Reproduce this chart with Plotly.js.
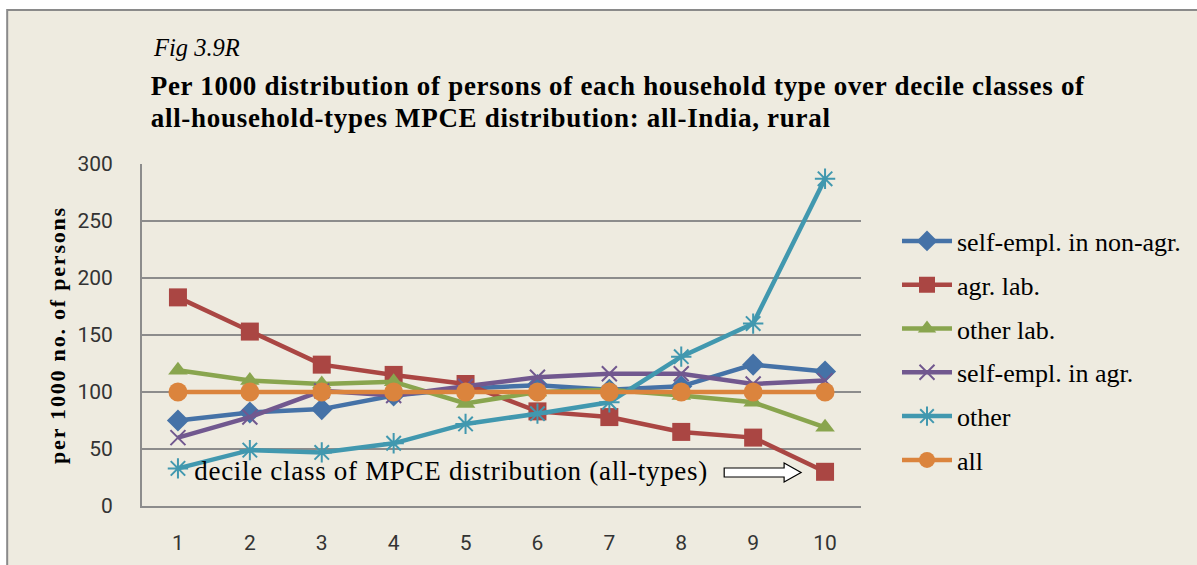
<!DOCTYPE html>
<html>
<head>
<meta charset="utf-8">
<script src="https://cdn.plot.ly/plotly-3.0.1.min.js"></script>
<style>
html,body{margin:0;padding:0;background:#ffffff;}
#chart{width:1197px;height:565px;}
#chart g.annotation[data-index="1"] text,
#chart g.annotation[data-index="2"] text{letter-spacing:0.7px;}
#chart g.annotation[data-index="3"] text{letter-spacing:0.7px;}
#chart text.ytitle{letter-spacing:1.8px;}
</style>
</head>
<body>
<div id="chart"></div>
<script>
const deciles = ["1","2","3","4","5","6","7","8","9","10"];
const seriesNames = ["self-empl. in non-agr.","agr. lab.","other lab.","self-empl. in agr.","other","all"];
const selfEmplNonAgr = [75, 82, 85, 97, 103, 106, 102, 105, 124, 118];
const agrLab        = [183, 153, 124, 115, 107, 83, 78, 65, 60, 30];
const otherLab      = [119, 110, 107, 109, 90, 100, 102, 97, 91, 69];
const selfEmplAgr   = [60, 78, 101, 97, 105, 113, 116, 116, 107, 110];
const other         = [33, 49, 47, 55, 72, 81, 91, 131, 160, 287];
const allTypes      = [100, 100, 100, 100, 100, 100, 100, 100, 100, 100];
const yTicks = [0, 50, 100, 150, 200, 250, 300];

const colors = ["#4572A7","#AA4643","#89A54E","#71588F","#4198AF","#DB843D"];
const symbols = ["diamond","square","triangle-up","x-thin-open","asterisk-open","circle"];
const sizes = [17, 18, 17, 15, 17, 19];
const values = [selfEmplNonAgr, agrLab, otherLab, selfEmplAgr, other, allTypes];

// plot area in pixels
const L = 142, R = 862, T = 164, B = 506, W = 1197, H = 565;
const px = x => (x - L) / (R - L);
const py = y => (B - y) / (B - T);

const traces = values.map((v, i) => ({
  type: "scatter",
  mode: "lines+markers",
  name: seriesNames[i],
  legendgroup: "g" + i,
  x: deciles,
  y: v,
  line: {color: colors[i], width: 4.5},
  marker: {
    color: colors[i],
    symbol: symbols[i],
    size: sizes[i],
    line: {color: colors[i], width: (symbols[i].endsWith("open") ? 2 : 0)}
  },
  cliponaxis: false
}));

// hollow arrow path (paper coords)
const arrowPts = [[725,468],[785,468],[785,463],[802,472.5],[785,482],[785,477],[725,477]];
const arrowPath = "M" + arrowPts.map(p => px(p[0]).toFixed(5) + "," + py(p[1]).toFixed(5)).join(" L") + " Z";

const serif = "Liberation Serif, Times New Roman, serif";

const layout = {
  width: W, height: H,
  paper_bgcolor: "#ffffff",
  plot_bgcolor: "#ffffff",
  margin: {l: L, r: W - R, t: T, b: H - B, pad: 0},
  showlegend: true,
  legend: {
    x: px(897), y: py(217.5), xanchor: "left", yanchor: "top",
    bgcolor: "rgba(0,0,0,0)",
    font: {family: serif, size: 26, color: "#000000"},
    tracegroupgap: 7,
    itemwidth: 50
  },
  xaxis: {
    type: "category",
    range: [-0.5, 9.5],
    showgrid: false,
    zeroline: false,
    showline: true, linecolor: "#8c8c8c", linewidth: 2,
    ticks: "",
    ticklabelstandoff: 17,
    tickfont: {family: "Roboto, Arial, sans-serif", size: 21, color: "#333333"},
    fixedrange: true
  },
  yaxis: {
    range: [0, 300],
    tickvals: yTicks,
    showgrid: true, gridcolor: "#8c8c8c", gridwidth: 1.5,
    zeroline: false,
    showline: true, linecolor: "#8c8c8c", linewidth: 2,
    ticks: "",
    ticklabelstandoff: 23,
    tickfont: {family: "Roboto, Arial, sans-serif", size: 21, color: "#333333"},
    title: {text: "<b>per 1000 no. of persons</b>", font: {family: serif, size: 22, color: "#000000"}, standoff: 6},
    fixedrange: true
  },
  shapes: [
    {type: "rect", xref: "paper", yref: "paper", layer: "below",
     x0: px(7), x1: px(1215), y0: py(10), y1: py(590),
     fillcolor: "#EEEBE0", line: {color: "#8a8a8a", width: 2}},
    {type: "path", xref: "paper", yref: "paper", layer: "above",
     path: arrowPath, fillcolor: "#ffffff", line: {color: "#000000", width: 1.2}}
  ],
  annotations: [
    {xref: "paper", yref: "paper", x: px(151), y: py(48), xanchor: "left", yanchor: "middle",
     showarrow: false, text: "<i>Fig 3.9R</i>", font: {family: serif, size: 24.5, color: "#000000"}},
    {xref: "paper", yref: "paper", x: px(176), y: py(86), xanchor: "left", yanchor: "middle",
     showarrow: false, text: "<b>Per 1000 distribution of persons of each household type over decile classes of</b>",
     font: {family: serif, size: 27, color: "#000000"}},
    {xref: "paper", yref: "paper", x: px(168), y: py(118), xanchor: "left", yanchor: "middle",
     showarrow: false, text: "<b>all-household-types MPCE distribution: all-India, rural</b>",
     font: {family: serif, size: 27, color: "#000000"}},
    {xref: "paper", yref: "paper", x: px(208), y: py(471), xanchor: "left", yanchor: "middle",
     showarrow: false, text: "decile class of MPCE distribution (all-types)",
     font: {family: serif, size: 27, color: "#000000"}}
  ]
};

Plotly.newPlot("chart", traces, layout, {displayModeBar: false, staticPlot: true});
</script>
</body>
</html>
